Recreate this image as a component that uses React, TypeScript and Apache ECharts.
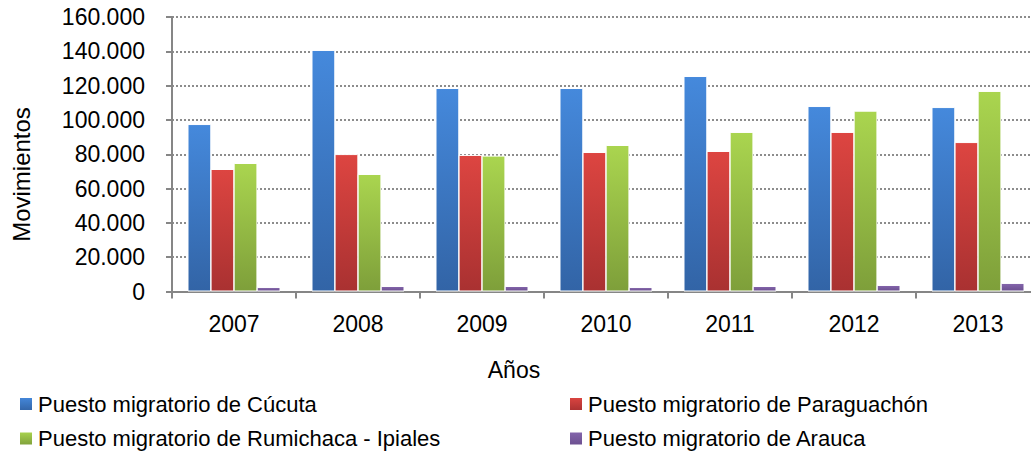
import React, { useEffect, useRef } from "react";
import * as echarts from "echarts";

const years = ["2007", "2008", "2009", "2010", "2011", "2012", "2013"];
const cucuta = [97600, 140800, 118600, 118600, 125600, 108100, 107500];
const paraguachon = [71400, 80100, 79600, 81300, 81900, 93000, 87100];
const rumichaca = [74900, 68500, 79200, 85400, 93000, 105400, 116900];
const arauca = [2600, 3200, 3200, 2600, 3200, 3800, 5000];
const seriesNames = [
  "Puesto migratorio de Cúcuta",
  "Puesto migratorio de Paraguachón",
  "Puesto migratorio de Rumichaca - Ipiales",
  "Puesto migratorio de Arauca",
];
const yTicks = [0, 20000, 40000, 60000, 80000, 100000, 120000, 140000, 160000];
const xTitle = "Años";
const yTitle = "Movimientos";

const FONT = "Liberation Sans";

const grad = (top: string, bottom: string) =>
  new echarts.graphic.LinearGradient(0, 0, 0, 1, [
    { offset: 0, color: top },
    { offset: 1, color: bottom },
  ]);

const fmt = (v: number) =>
  v === 0 ? "0" : String(v).replace(/\B(?=(\d{3})+(?!\d))/g, ".");

export default function App() {
  const ref = useRef<HTMLDivElement>(null);
  useEffect(() => {
    document.body.style.margin = "0";
    const chart = echarts.init(ref.current!, undefined, { renderer: "svg" });
    const colors = [
      grad("#4589dc", "#3264a6"),
      grad("#dd4541", "#a93131"),
      grad("#aad54f", "#7e9f3a"),
      grad("#8566ad", "#6b4f8f"),
    ];
    const datas = [cucuta, paraguachon, rumichaca, arauca];
    const legendPos = [
      { left: 18, top: 393 },
      { left: 568, top: 393 },
      { left: 18, top: 427.5 },
      { left: 568, top: 427.5 },
    ];
    chart.setOption({
      animation: false,
      grid: { left: 172, top: 17, bottom: 163.5, right: 0, containLabel: false },
      legend: seriesNames.map((n, i) => ({
        data: [n],
        left: legendPos[i].left,
        top: legendPos[i].top,
        padding: 0,
        itemWidth: 14,
        itemHeight: 14,
        itemGap: 4,
        icon: "rect",
        textStyle: { fontFamily: FONT, fontSize: 22, color: "#000" },
      })),
      graphic: [
        {
          type: "text",
          x: 514,
          y: 370,
          style: {
            text: xTitle,
            font: `23px "${FONT}"`,
            fill: "#000",
            textAlign: "center",
            textVerticalAlign: "middle",
          },
        },
        {
          type: "text",
          x: 21,
          y: 174.5,
          rotation: Math.PI / 2,
          style: {
            text: yTitle,
            font: `24px "${FONT}"`,
            fill: "#000",
            textAlign: "center",
            textVerticalAlign: "middle",
          },
        },
      ],
      xAxis: {
        type: "category",
        data: years,
        axisLine: { lineStyle: { color: "#868686", width: 2 } },
        axisTick: { show: true, length: 7, lineStyle: { color: "#868686", width: 2 } },
        axisLabel: { fontFamily: FONT, fontSize: 23, color: "#000", margin: 21 },
      },
      yAxis: {
        type: "value",
        min: yTicks[0],
        max: yTicks[yTicks.length - 1],
        interval: yTicks[1] - yTicks[0],
        axisLine: { show: true, lineStyle: { color: "#868686", width: 2 } },
        axisTick: { show: true, length: 6, lineStyle: { color: "#868686", width: 2 } },
        axisLabel: {
          fontFamily: FONT,
          fontSize: 23,
          color: "#000",
          margin: 27,
          formatter: (v: number) => fmt(v),
        },
        splitLine: { show: true, lineStyle: { color: "#8c8c8c", type: [2, 2], width: 2 } },
      },
      series: datas.map((d, i) => ({
        type: "bar",
        name: seriesNames[i],
        data: d,
        barGap: "-3%",
        barCategoryGap: "25%",
        itemStyle: { color: colors[i], borderColor: "#fff", borderWidth: 1 },
      })),
    });
    return () => chart.dispose();
  }, []);
  return (
    <div style={{ width: 1031, height: 455, overflow: "hidden", position: "relative" }}>
      <div ref={ref} style={{ width: 1040, height: 455 }} />
    </div>
  );
}
